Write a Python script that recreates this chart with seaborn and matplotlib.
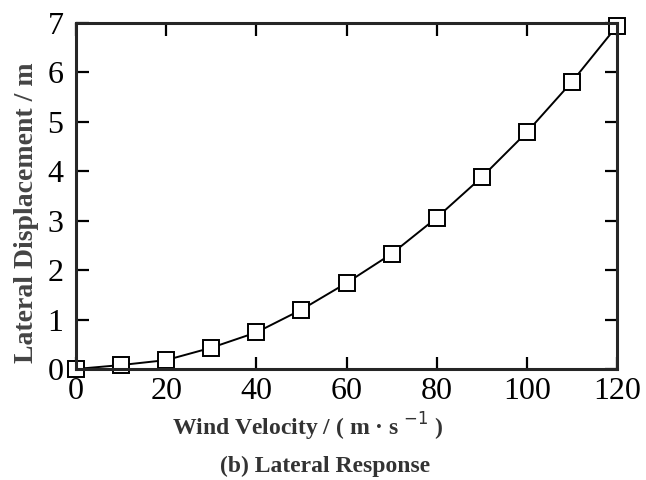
import matplotlib
matplotlib.use('Agg')
import matplotlib.pyplot as plt
import seaborn as sns
import pandas as pd

# 풍속(m/s) 및 횡방향 변위(m)
wind_velocity = [0, 10, 20, 30, 40, 50, 60, 70, 80, 90, 100, 110, 120]
lateral_disp = [0.0, 0.08, 0.18, 0.43, 0.74, 1.2, 1.74, 2.33, 3.06, 3.88, 4.79, 5.81, 6.94]
x_ticks = [0, 20, 40, 60, 80, 100, 120]
y_ticks = [0, 1, 2, 3, 4, 5, 6, 7]

df = pd.DataFrame({'v': wind_velocity, 'd': lateral_disp})

sns.set_style('ticks')
plt.rcParams['font.family'] = ['Liberation Serif', 'DejaVu Serif']

fig = plt.figure(figsize=(6.46, 4.8), dpi=100)
ax = fig.add_axes([76 / 646, 1 - 369 / 480, 541 / 646, 346 / 480])

sns.lineplot(data=df, x='v', y='d', ax=ax, color='black', linewidth=1.4,
             marker='s', markersize=12, markerfacecolor='white',
             markeredgecolor='black', markeredgewidth=1.4, clip_on=False)

ax.set_xlim(0, 120)
ax.set_ylim(0, 7)
ax.set_xticks(x_ticks)
ax.set_yticks(y_ticks)
ax.tick_params(direction='in', length=9, width=1.6, labelsize=23,
               top=True, right=True, colors='black')
ax.tick_params(axis='x', pad=6)
ax.tick_params(axis='y', pad=9)
for s in ax.spines.values():
    s.set_linewidth(2.2)
    s.set_visible(True)

ax.set_xlabel('')
ax.set_ylabel('')
fig.text(308 / 646, 1 - 427 / 480, 'Wind Velocity / ( m · s $^{-1}$ )',
         ha='center', va='center', fontsize=17, fontweight='bold', color='#333333')
fig.text(325 / 646, 1 - 466 / 480, '(b) Lateral Response',
         ha='center', va='center', fontsize=17, fontweight='bold', color='#333333')
fig.text(27 / 646, 1 - 213 / 480, 'Lateral Displacement / m', rotation=90,
         ha='center', va='center', fontsize=20, fontweight='bold', color='#444444')

fig.savefig('out.png', dpi=100)
